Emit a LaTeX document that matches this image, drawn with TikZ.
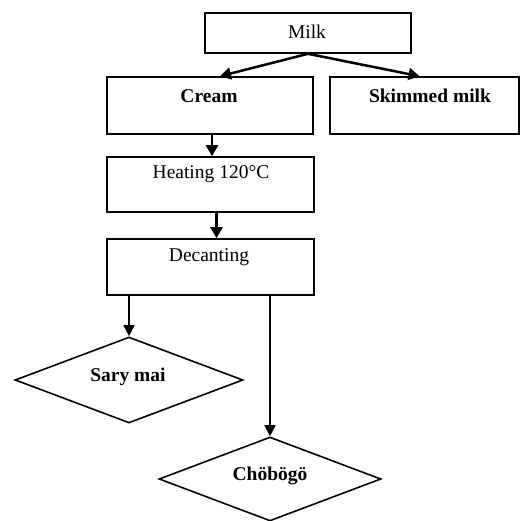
\documentclass[tikz,border=0pt]{standalone}
\usepackage{fontspec}
\setmainfont{Liberation Serif}
\usetikzlibrary{shapes.geometric,arrows.meta}
\begin{document}
\begin{tikzpicture}[x=1pt,y=-1pt,
  box/.style={draw,line width=1.6pt,inner sep=0pt},
  dia/.style={draw,diamond,line width=1.6pt,inner sep=0pt},
  lbl/.style={font=\fontsize{19.5}{22}\selectfont,inner sep=0pt},
  thick arrow/.style={line width=2.5pt,-{Triangle[length=11pt,width=12pt]}},
  thin arrow/.style={line width=1.6pt,-{Triangle[length=11pt,width=11pt]}}]
\useasboundingbox (0,0) rectangle (522,521);
\node[box,minimum width=206pt,minimum height=40pt] (milk) at (308,33) {};
\node[lbl] at (307,32) {Milk};
\node[box,minimum width=206pt,minimum height=57pt] (cream) at (210,105.5) {};
\node[lbl] at (209,96) {\textbf{Cream}};
\node[box,minimum width=189pt,minimum height=57pt] (skim) at (424.5,105.5) {};
\node[lbl] at (430,96) {\textbf{Skimmed milk}};
\node[box,minimum width=207pt,minimum height=55pt] (heat) at (210.5,184.5) {};
\node[lbl] at (211,174) {Heating 120°C};
\node[box,minimum width=207pt,minimum height=56pt] (dec) at (210.5,267) {};
\node[lbl] at (209,257) {Decanting};
\node[dia,minimum width=228pt,minimum height=86pt] (sary) at (129,380) {};
\node[lbl] at (128,377) {\textbf{Sary mai}};
\node[dia,minimum width=222pt,minimum height=84pt] (chob) at (270,479) {};
\node[lbl] at (270,476) {\textbf{Chöbögö}};
\draw[thick arrow] (milk.south) -- ([xshift=10pt]cream.north);
\draw[thick arrow] (milk.south) -- ([xshift=-5pt]skim.north);
\draw[thick arrow] ([xshift=2pt]cream.south) -- ([xshift=2pt]cream.south |- heat.north);
\draw[thick arrow] ([xshift=6pt]heat.south) -- ([xshift=6pt]heat.south |- dec.north);
\draw[thin arrow] (dec.south -| sary.north) -- (sary.north);
\draw[thin arrow] (dec.south -| chob.north) -- (chob.north);
\end{tikzpicture}
\end{document}
